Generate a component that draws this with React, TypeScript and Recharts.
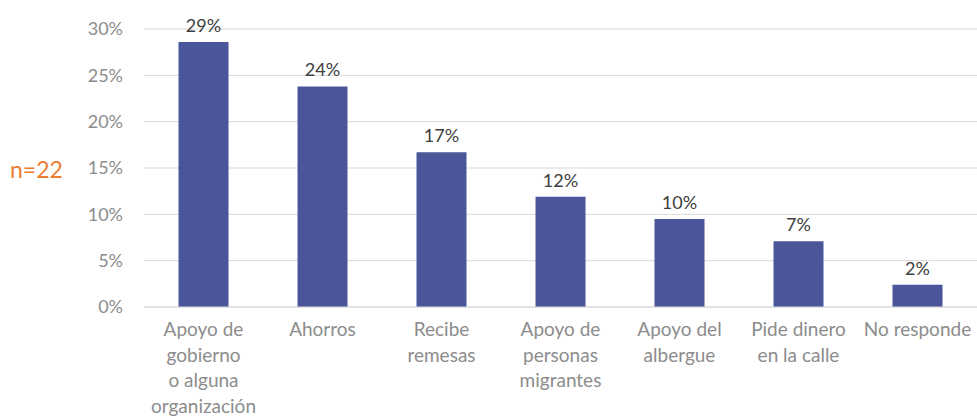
import { BarChart, Bar, XAxis, YAxis, CartesianGrid, LabelList } from "recharts";

const categories = [
  "Apoyo de\ngobierno\no alguna\norganización",
  "Ahorros",
  "Recibe\nremesas",
  "Apoyo de\npersonas\nmigrantes",
  "Apoyo del\nalbergue",
  "Pide dinero\nen la calle",
  "No responde",
];
const values = [28.6, 23.8, 16.7, 11.9, 9.5, 7.1, 2.4];
const yTicks = [0, 5, 10, 15, 20, 25, 30];

const data = categories.map((name, i) => ({ name, value: values[i] }));

const FONT = "Lato, 'Open Sans', sans-serif";

function CategoryTick(props: any) {
  const { x, y, payload } = props;
  const lines = String(payload.value).split("\n");
  return (
    <text x={x} y={y} textAnchor="middle" fill="#8c8c8c" fontSize={19} fontFamily={FONT}>
      {lines.map((line, i) => (
        <tspan key={i} x={x} dy={i === 0 ? 21 : 25.5}>
          {line}
        </tspan>
      ))}
    </text>
  );
}

export default function App() {
  return (
    <div
      style={{
        position: "fixed",
        left: 0,
        top: 0,
        width: 977,
        height: 417,
        background: "#fff",
        overflow: "hidden",
      }}
    >
      <div
        style={{
          position: "absolute",
          left: 10,
          top: 155,
          color: "#ED7D31",
          fontSize: 23,
          fontFamily: FONT,
        }}
      >
        n=22
      </div>
      <BarChart
        width={977}
        height={417}
        data={data}
        margin={{ top: 29, right: 0, bottom: 0, left: 0 }}
        barCategoryGap="29%"
      >
        <CartesianGrid vertical={false} stroke="#d9d9d9" strokeWidth={1} />
        <XAxis
          dataKey="name"
          interval={0}
          height={110}
          axisLine={{ stroke: "#d9d9d9" }}
          tickLine={false}
          tick={<CategoryTick />}
        />
        <YAxis
          width={144}
          domain={[0, 30]}
          ticks={yTicks}
          axisLine={false}
          tickLine={false}
          tickMargin={15}
          tickFormatter={(v: number) => `${v}%`}
          tick={{ fill: "#8c8c8c", fontSize: 18, fontFamily: FONT }}
        />
        <Bar dataKey="value" fill="#4A5699" isAnimationActive={false}>
          <LabelList
            dataKey="value"
            position="top"
            offset={10}
            formatter={(v: any) => `${Math.round(Number(v))}%`}
            style={{ fill: "#404040", fontSize: 18, fontFamily: FONT }}
          />
        </Bar>
      </BarChart>
    </div>
  );
}
